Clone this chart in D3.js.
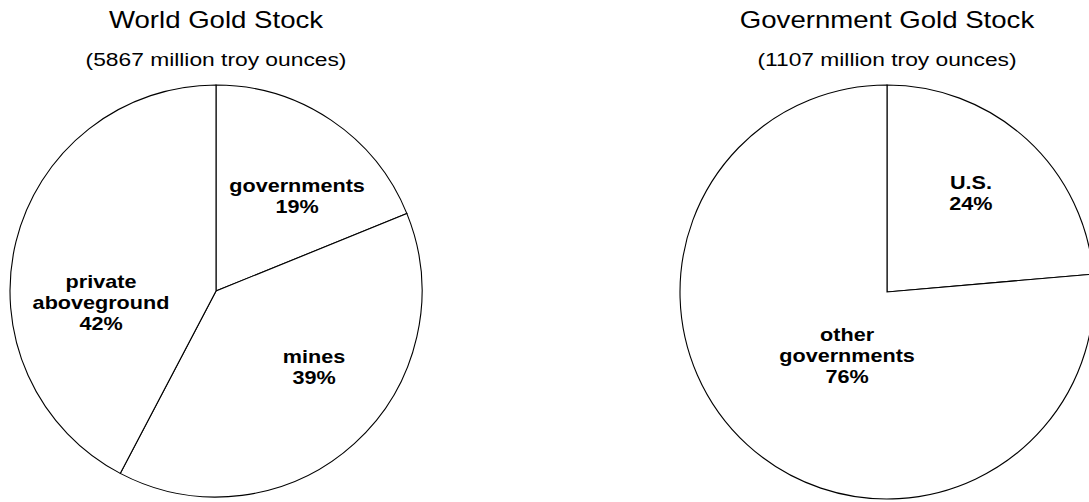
<!DOCTYPE html>
<html>
<head>
<meta charset="utf-8">
<script src="https://cdn.jsdelivr.net/npm/d3@7"></script>
<style>
  body { margin: 0; background: #fff; }
  svg { display: block; font-family: "Liberation Sans", Arial, sans-serif; }
</style>
</head>
<body>
<svg id="chart"></svg>
<script>
// Data (million troy ounces)
const worldCategories = ["governments", "mines", "private aboveground"];
const worldValues = [1107, 2278, 2482];
const govCategories = ["U.S.", "other governments"];
const govValues = [261.5, 845.5];

const titles = ["World Gold Stock", "Government Gold Stock"];
const subtitles = ["(5867 million troy ounces)", "(1107 million troy ounces)"];

const width = 1089;
const height = 502;
const stretch = 1.2; // text is drawn a bit wide in the original

// small nudges from the arc centroid so labels sit where the original has them
const labelNudge = {
  "governments": [12, 8],
  "mines": [15, -16],
  "private aboveground": [5, 41],
  "U.S.": [0, -7],
  "other governments": [44, -28]
};

const svg = d3.select("#chart")
  .attr("width", width)
  .attr("height", height);

const pies = [
  { cx: 216, cy: 291, r: 206, cats: worldCategories, vals: worldValues, title: titles[0], sub: subtitles[0] },
  { cx: 887, cy: 292, r: 207, cats: govCategories, vals: govValues, title: titles[1], sub: subtitles[1] }
];

const pie = d3.pie().sort(null).value(d => d.value);

pies.forEach(p => {
  const data = p.cats.map((c, i) => ({ name: c, value: p.vals[i] }));
  const total = d3.sum(p.vals);
  const arcs = pie(data);
  const arc = d3.arc().innerRadius(0).outerRadius(p.r);
  const labelArc = d3.arc().innerRadius(p.r * 0.6).outerRadius(p.r * 0.6);

  // titles
  svg.append("text")
    .attr("transform", `translate(${p.cx},28) scale(${stretch},1)`)
    .attr("text-anchor", "middle")
    .attr("font-size", 23)
    .text(p.title);
  svg.append("text")
    .attr("transform", `translate(${p.cx},66) scale(${stretch},1)`)
    .attr("text-anchor", "middle")
    .attr("font-size", 19)
    .text(p.sub);

  const g = svg.append("g").attr("transform", `translate(${p.cx},${p.cy})`);

  // slices
  g.selectAll("path")
    .data(arcs)
    .enter()
    .append("path")
    .attr("d", arc)
    .attr("fill", "#fff")
    .attr("stroke", "#000")
    .attr("stroke-width", 1.1)
    .attr("stroke-linejoin", "miter");

  // labels
  const lineH = 21;
  g.selectAll("text.lbl")
    .data(arcs)
    .enter()
    .append("text")
    .attr("class", "lbl")
    .attr("text-anchor", "middle")
    .attr("font-size", 18)
    .attr("font-weight", "bold")
    .attr("transform", d => {
      const c = labelArc.centroid(d);
      const n = labelNudge[d.data.name] || [0, 0];
      return `translate(${c[0] + n[0]},${c[1] + n[1]}) scale(${stretch},1)`;
    })
    .each(function(d) {
      const lines = d.data.name.split(" ");
      lines.push(Math.round(d.data.value / total * 100) + "%");
      const y0 = -(lines.length - 1) * lineH / 2 + 6.5;
      d3.select(this).selectAll("tspan")
        .data(lines)
        .enter()
        .append("tspan")
        .attr("x", 0)
        .attr("y", (t, i) => y0 + i * lineH)
        .text(t => t);
    });
});
</script>
</body>
</html>
